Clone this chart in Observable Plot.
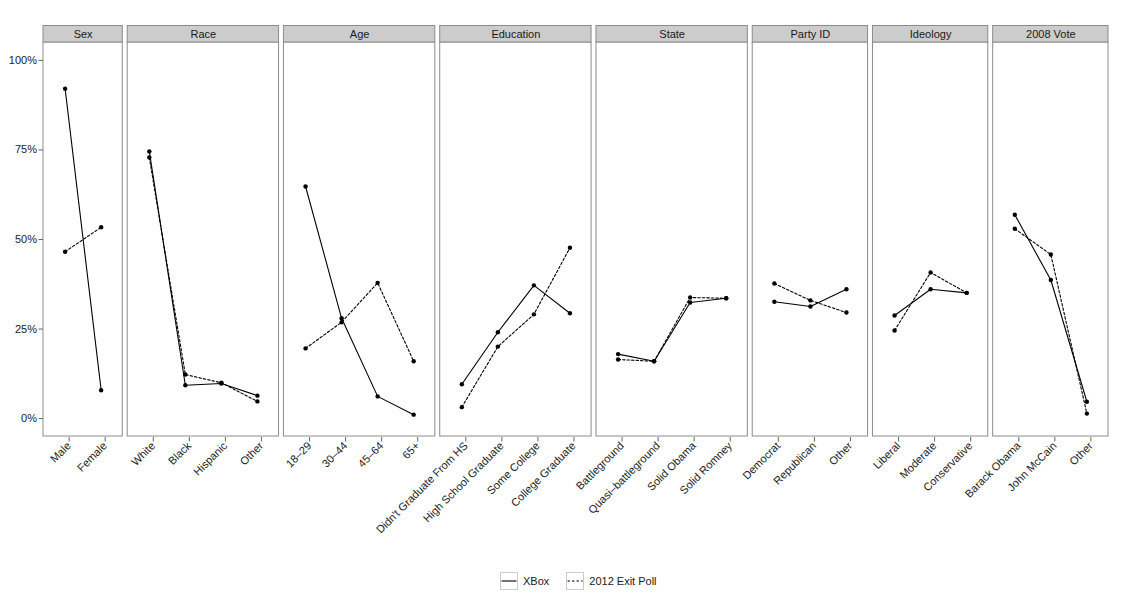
<!DOCTYPE html>
<html>
<head>
<meta charset="utf-8">
<script src="https://cdn.jsdelivr.net/npm/d3@7"></script>
<script src="https://cdn.jsdelivr.net/npm/@observablehq/plot@0.6"></script>
<style>
  html, body { margin: 0; padding: 0; background: #fff; }
  body { width: 1124px; height: 605px; overflow: hidden; font-family: "Liberation Sans", Arial, Helvetica, sans-serif; }
  #chart svg { display: block; }
  #legend { position: relative; height: 45px; }
  #legend .inner { position: absolute; left: 500px; top: 12px; display: flex; align-items: center; font-size: 11px; color: #1a1a1a; }
  #legend .item { display: flex; align-items: center; margin-right: 17px; }
  #legend .item svg { margin-right: 5px; display: block; }
</style>
</head>
<body>
<div id="chart"></div>
<div id="legend"></div>
<script>
// ---- data ----
const facetNames = ["Sex", "Race", "Age", "Education", "State", "Party ID", "Ideology", "2008 Vote"];
const facetCategories = [
  ["Male", "Female"],
  ["White", "Black", "Hispanic", "Other"],
  ["18–29", "30–44", "45–64", "65+"],
  ["Didn't Graduate From HS", "High School Graduate", "Some College", "College Graduate"],
  ["Battleground", "Quasi–battleground", "Solid Obama", "Solid Romney"],
  ["Democrat", "Republican", "Other"],
  ["Liberal", "Moderate", "Conservative"],
  ["Barack Obama", "John McCain", "Other"]
];
const xboxValues = [
  [92.1, 7.9],
  [74.6, 9.3, 9.8, 6.4],
  [64.8, 28.0, 6.2, 1.1],
  [9.6, 24.1, 37.2, 29.4],
  [18.0, 16.0, 32.4, 33.6],
  [32.6, 31.3, 36.1],
  [28.8, 36.1, 35.1],
  [56.9, 38.7, 4.7]
];
const exitPollValues = [
  [46.6, 53.4],
  [72.9, 12.3, 10.0, 4.8],
  [19.6, 26.9, 37.9, 16.0],
  [3.2, 20.1, 29.1, 47.7],
  [16.5, 16.0, 33.8, 33.6],
  [37.7, 33.0, 29.6],
  [24.6, 40.8, 35.1],
  [53.0, 45.8, 1.4]
];
const seriesNames = ["XBox", "2012 Exit Poll"];
const yTicks = [0, 25, 50, 75, 100];
const yDomain = [-5, 105];

// ---- layout ----
const W = 1124, H = 560;
const mL = 43, mR = 16, mT = 42, mB = 124;
const gapPx = 4.9;      // space between panels
const pad = 0.6;        // discrete expansion on each side of a panel
const stripPx = 16.5;   // strip height
const dashes = "2.5,2";

const totalUnits = d3.sum(facetCategories, c => c.length - 1 + 2 * pad);
const unitPx = (W - mL - mR - gapPx * (facetNames.length - 1)) / totalUnits;
const gapU = gapPx / unitPx;

const panels = [];
const tickPos = [];
const tickLabel = new Map();
const rows = [];
let cursor = 0;
facetNames.forEach((name, k) => {
  const cats = facetCategories[k];
  const x1 = cursor, x2 = cursor + cats.length - 1 + 2 * pad;
  panels.push({name, x1, x2, xc: (x1 + x2) / 2});
  cats.forEach((c, i) => {
    const pos = x1 + pad + i;
    tickPos.push(pos);
    tickLabel.set(pos, c);
    rows.push({facet: name, category: c, pos, series: seriesNames[0], value: xboxValues[k][i]});
    rows.push({facet: name, category: c, pos, series: seriesNames[1], value: exitPollValues[k][i]});
  });
  cursor = x2 + gapU;
});
const xMax = cursor - gapU;

const yPerPx = (yDomain[1] - yDomain[0]) / (H - mT - mB);
const stripTop = yDomain[1] + stripPx * yPerPx;
const stripMid = yDomain[1] + stripPx * yPerPx / 2;

const fontFamily = '"Liberation Sans", Arial, Helvetica, sans-serif';

const chart = Plot.plot({
  width: W,
  height: H,
  marginLeft: mL,
  marginRight: mR,
  marginTop: mT,
  marginBottom: mB,
  style: {fontFamily, fontSize: "11px", color: "#1a1a1a", background: "#fff", overflow: "visible"},
  x: {domain: [0, xMax], axis: null},
  y: {domain: yDomain, axis: null},
  marks: [
    Plot.rect(panels, {x1: "x1", x2: "x2", y1: yDomain[0], y2: yDomain[1], fill: "#fff", stroke: "#8c8c8c", strokeWidth: 1}),
    Plot.rect(panels, {x1: "x1", x2: "x2", y1: yDomain[1], y2: stripTop, fill: "#cccccc", stroke: "#8c8c8c", strokeWidth: 1}),
    Plot.text(panels, {x: "xc", y: stripMid, text: "name", fill: "#1a1a1a", fontSize: 11}),
    Plot.axisY({ticks: yTicks, tickFormat: d => d + "%", label: null, tickSize: 4.5, tickPadding: 2, stroke: "#666", fill: "#1a1a1a", fontSize: 11}),
    Plot.axisX({ticks: tickPos, tickFormat: d => tickLabel.get(d), label: null, tickRotate: -45, tickSize: 4.5, tickPadding: 2, dx: 4, dy: 1, stroke: "#666", fill: "#1a1a1a", fontSize: 11}),
    Plot.line(rows.filter(d => d.series === seriesNames[0]), {x: "pos", y: "value", z: "facet", stroke: "#000", strokeWidth: 1.1}),
    Plot.line(rows.filter(d => d.series === seriesNames[1]), {x: "pos", y: "value", z: "facet", stroke: "#000", strokeWidth: 1.1, strokeDasharray: dashes}),
    Plot.dot(rows, {x: "pos", y: "value", r: 2.2, fill: "#000"})
  ]
});
document.getElementById("chart").appendChild(chart);

// ---- legend ----
const legend = document.getElementById("legend");
const inner = document.createElement("div");
inner.className = "inner";
seriesNames.forEach((s, i) => {
  const item = document.createElement("div");
  item.className = "item";
  const dash = i === 1 ? ` stroke-dasharray="${dashes}"` : "";
  item.innerHTML = `<svg width="18" height="18"><rect x="0.5" y="0.5" width="17" height="17" fill="#fff" stroke="#cccccc"/><line x1="1.5" x2="16.5" y1="9" y2="9" stroke="#000" stroke-width="1.1"${dash}/></svg><span>${s}</span>`;
  inner.appendChild(item);
});
legend.appendChild(inner);
</script>
</body>
</html>
